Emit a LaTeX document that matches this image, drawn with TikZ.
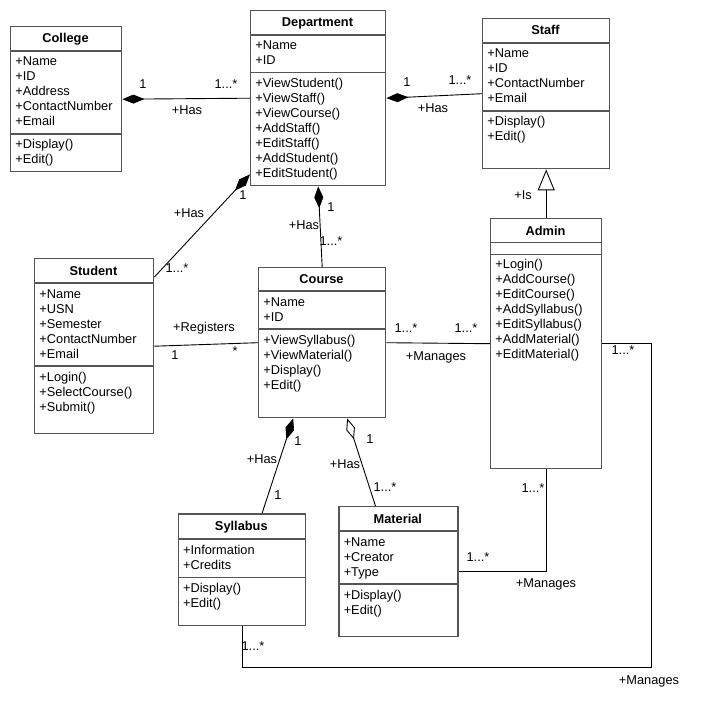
\documentclass[tikz,border=0pt]{standalone}
\usepackage{fontspec}
\setmainfont{Liberation Sans}
\usepackage{xcolor}
\usetikzlibrary{arrows.meta,calc}

\definecolor{boxline}{HTML}{555555}

\tikzset{
  cls/.style={draw=boxline, line width=1.4pt, anchor=north west, inner sep=0pt},
  divider/.style={draw=boxline, line width=1.4pt},
  ttl/.style={font=\fontsize{12.8}{15}\selectfont\bfseries, anchor=base, inner sep=0pt},
  txt/.style={anchor=base west, inner sep=0pt},
  lbl/.style={inner sep=0pt},
  comp/.style={{Diamond[length=22pt,width=9pt]}-},
  aggr/.style={{Diamond[open,length=22pt,width=9pt]}-},
  gen/.style={-{Triangle[open,length=21pt,width=17pt]}},
}

\begin{document}
\begin{tikzpicture}[x=1pt, y=-1pt, font=\fontsize{12.8}{15}\selectfont, line width=0.9pt]
          \useasboundingbox (0,0) rectangle (719,727);

          % College
          \node[cls, minimum width=111, minimum height=145] (college) at (10,26) {};
          \node[ttl] (college-t) at (65.5,43) {College};
          \draw[divider] (10,51) -- (121,51) (10,134) -- (121,134);
          \foreach \t [count=\i] in {+Name,+ID,+Address,+ContactNumber,+Email}
              \node[txt] (college-a\i) at (15,51+15*\i) {\t};
          \foreach \t [count=\i] in {+Display(),+Edit()}
              \node[txt] (college-m\i) at (15,134+15*\i) {\t};

          % Department
          \node[cls, minimum width=135, minimum height=175] (dept) at (250,10) {};
          \node[ttl] (dept-t) at (317.5,27) {Department};
          \draw[divider] (250,35) -- (385,35) (250,72.7) -- (385,72.7);
          \foreach \t [count=\i] in {+Name,+ID}
              \node[txt] (dept-a\i) at (255,35+15*\i) {\t};
          \foreach \t [count=\i] in {+ViewStudent(),+ViewStaff(),+ViewCourse(),+AddStaff(),+EditStaff(),+AddStudent(),+EditStudent()}
              \node[txt] (dept-m\i) at (255,72.7+15*\i) {\t};

          % Staff
          \node[cls, minimum width=127, minimum height=150] (staff) at (482,18) {};
          \node[ttl] (staff-t) at (545.5,35) {Staff};
          \draw[divider] (482,43) -- (609,43) (482,111) -- (609,111);
          \foreach \t [count=\i] in {+Name,+ID,+ContactNumber,+Email}
              \node[txt] (staff-a\i) at (487,43+15*\i) {\t};
          \foreach \t [count=\i] in {+Display(),+Edit()}
              \node[txt] (staff-m\i) at (487,111+15*\i) {\t};

          % Admin
          \node[cls, minimum width=111, minimum height=250] (admin) at (490,218) {};
          \node[ttl] (admin-t) at (545.5,235) {Admin};
          \draw[divider] (490,242.7) -- (601,242.7) (490,254.5) -- (601,254.5);
          \foreach \t [count=\i] in {+Login(),+AddCourse(),+EditCourse(),+AddSyllabus(),+EditSyllabus(),+AddMaterial(),+EditMaterial()}
              \node[txt] (admin-m\i) at (495,253+15*\i) {\t};

          % Student
          \node[cls, minimum width=119, minimum height=175] (student) at (34,258) {};
          \node[ttl] (student-t) at (93.5,275) {Student};
          \draw[divider] (34,283) -- (153,283) (34,366) -- (153,366);
          \foreach \t [count=\i] in {+Name,+USN,+Semester,+ContactNumber,+Email}
              \node[txt] (student-a\i) at (39,283+15*\i) {\t};
          \foreach \t [count=\i] in {+Login(),+SelectCourse(),+Submit()}
              \node[txt] (student-m\i) at (39,366+15*\i) {\t};

          % Course
          \node[cls, minimum width=127, minimum height=150] (course) at (258,267) {};
          \node[ttl] (course-t) at (321.5,283.6) {Course};
          \draw[divider] (258,291) -- (385,291) (258,329) -- (385,329);
          \foreach \t [count=\i] in {+Name,+ID}
              \node[txt] (course-a\i) at (263,291+15*\i) {\t};
          \foreach \t [count=\i] in {+ViewSyllabus(),+ViewMaterial(),+Display(),+Edit()}
              \node[txt] (course-m\i) at (263,329+15*\i) {\t};

          % Syllabus
          \node[cls, minimum width=127.3, minimum height=111.7] (syll) at (177.7,513.3) {};
          \node[ttl] (syll-t) at (241.3,530.7) {Syllabus};
          \draw[divider] (177.7,539) -- (305,539) (177.7,577.3) -- (305,577.3);
          \foreach \t [count=\i] in {+Information,+Credits}
              \node[txt] (syll-a\i) at (182.7,539+15*\i) {\t};
          \foreach \t [count=\i] in {+Display(),+Edit()}
              \node[txt] (syll-m\i) at (182.7,577.3+15*\i) {\t};

          % Material
          \node[cls, minimum width=119, minimum height=129.7] (mat) at (338.3,506) {};
          \node[ttl] (mat-t) at (397.8,523) {Material};
          \draw[divider] (338.3,531) -- (457.3,531) (338.3,584) -- (457.3,584);
          \foreach \t [count=\i] in {+Name,+Creator,+Type}
              \node[txt] (mat-a\i) at (343.3,531+15*\i) {\t};
          \foreach \t [count=\i] in {+Display(),+Edit()}
              \node[txt] (mat-m\i) at (343.3,584+15*\i) {\t};

          % Connectors
          \draw[comp] (college.east) -- (dept.west);
          \draw[comp] (dept.east) -- (staff.west);
          \draw[gen] (admin.north) -- (staff.south);
          \draw[comp] ($(dept.south west)+(0,-12)$) -- ($(student.north east)+(0,19)$);
          \draw[comp] (dept.south) -- (course.north);
          \draw (student.east) -- (course.west);
          \draw (course.east) -- (admin.west);
          \draw[comp] ($(course.south)+(-29,0)$) -- ($(syll.north)+(20,0)$);
          \draw[aggr] ($(course.south)+(25,0)$) -- ($(mat.north)+(-23,0)$);
          \draw (admin.south) |- (mat.east);
          \draw (admin.east) -- ++(49,0) |- ($(syll.south)+(0,41)$) -- (syll.south);

          % Labels
          \node[lbl] (l1) at (143,84.5) {1};
          \node[lbl] (l2) at (226,84) {1...*};
          \node[lbl] (l3) at (187,110) {+Has};
          \node[lbl] (l4) at (407,82) {1};
          \node[lbl] (l5) at (460,80) {1...*};
          \node[lbl] (l6) at (433,108) {+Has};
          \node[lbl] (l7) at (523,195) {+Is};
          \node[lbl] (l8) at (243,195) {1};
          \node[lbl] (l9) at (189,213) {+Has};
          \node[lbl] (l10) at (177,268) {1...*};
          \node[lbl] (l11) at (331,207) {1};
          \node[lbl] (l12) at (304,225) {+Has};
          \node[lbl] (l13) at (331,241) {1...*};
          \node[lbl] (l14) at (204,328) {+Registers};
          \node[lbl] (l15) at (175,355) {1};
          \node[lbl] (l16) at (235,351) {*};
          \node[lbl] (l17) at (406,328) {1...*};
          \node[lbl] (l18) at (466,328) {1...*};
          \node[lbl] (l19) at (436,357) {+Manages};
          \node[lbl] (l20) at (623,350) {1...*};
          \node[lbl] (l21) at (298,441) {1};
          \node[lbl] (l22) at (262,459) {+Has};
          \node[lbl] (l23) at (278,495) {1};
          \node[lbl] (l24) at (370,439) {1};
          \node[lbl] (l25) at (345,464) {+Has};
          \node[lbl] (l26) at (385,487) {1...*};
          \node[lbl] (l27) at (478,557) {1...*};
          \node[lbl] (l28) at (533,488) {1...*};
          \node[lbl] (l29) at (546,584) {+Manages};
          \node[lbl] (l30) at (253,646) {1...*};
          \node[lbl] (l31) at (649,681) {+Manages};
      \end{tikzpicture}
\end{document}
